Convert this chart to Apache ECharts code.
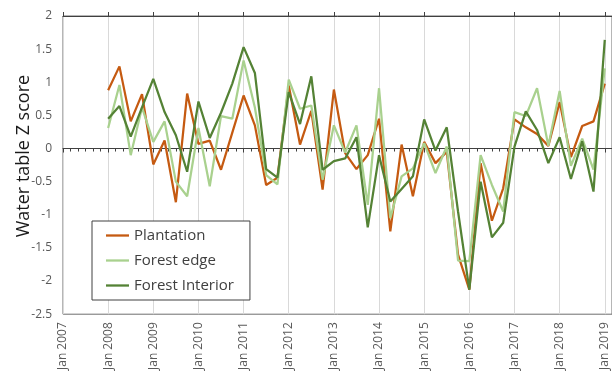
<!DOCTYPE html>
<html>
<head>
<meta charset="utf-8">
<script src="https://cdn.jsdelivr.net/npm/echarts@6/dist/echarts.min.js"></script>
<style>
  html, body { margin: 0; padding: 0; background: #ffffff; }
  #chart { width: 612px; height: 373px; }
</style>
</head>
<body>
<div id="chart"></div>
<script>
// Quarterly sampling dates (year-month)
const quarters = [
  '2008-01','2008-04','2008-07','2008-10',
  '2009-01','2009-04','2009-07','2009-10',
  '2010-01','2010-04','2010-07','2010-10',
  '2011-01','2011-04','2011-07','2011-10',
  '2012-01','2012-04','2012-07','2012-10',
  '2013-01','2013-04','2013-07','2013-10',
  '2014-01','2014-04','2014-07','2014-10',
  '2015-01','2015-04','2015-07','2015-10',
  '2016-01','2016-04','2016-07','2016-10',
  '2017-01','2017-04','2017-07','2017-10',
  '2018-01','2018-04','2018-07','2018-10',
  '2019-01'
];

// Water table Z scores per site type
const plantation = [
  0.88, 1.24, 0.41, 0.82,
  -0.24, 0.12, -0.81, 0.83,
  0.07, 0.12, -0.32, 0.24,
  0.80, 0.35, -0.55, -0.44,
  0.95, 0.06, 0.57, -0.62,
  0.89, -0.07, -0.31, -0.10,
  0.45, -1.25, 0.06, -0.72,
  0.10, -0.22, -0.05, -1.60,
  -2.13, -0.22, -1.09, -0.60,
  0.44, 0.32, 0.22, 0.04,
  0.70, -0.13, 0.34, 0.41,
  0.98
];
const forestEdge = [
  0.31, 0.96, -0.10, 0.62,
  0.10, 0.41, -0.50, -0.72,
  0.31, -0.57, 0.49, 0.45,
  1.33, 0.62, -0.40, -0.54,
  1.04, 0.60, 0.65, -0.47,
  0.35, -0.06, 0.35, -0.85,
  0.91, -1.05, -0.42, -0.30,
  0.08, -0.37, 0.03, -1.69,
  -1.70, -0.10, -0.55, -0.95,
  0.55, 0.49, 0.91, 0.04,
  0.87, -0.26, 0.15, -0.32,
  1.21
];
const forestInterior = [
  0.45, 0.64, 0.18, 0.62,
  1.05, 0.55, 0.20, -0.35,
  0.71, 0.16, 0.54, 0.98,
  1.53, 1.14, -0.31, -0.44,
  0.85, 0.37, 1.09, -0.32,
  -0.19, -0.15, 0.17, -1.19,
  -0.10, -0.80, -0.61, -0.42,
  0.44, -0.03, 0.32, -0.95,
  -2.13, -0.50, -1.34, -1.12,
  0.03, 0.56, 0.28, -0.22,
  0.17, -0.46, 0.11, -0.65,
  1.64
];

const seriesNames = ['Plantation', 'Forest edge', 'Forest Interior'];
const seriesColors = ['#C55A11', '#A9D18E', '#548235'];
const yTitle = 'Water table Z score';

const xMin = 2007, xMax = 2019.16;

// 'YYYY-MM' -> decimal year
function toYear(s) {
  const parts = s.split('-').map(Number);
  return parts[0] + (parts[1] - 1) / 12;
}
function pairs(vals) {
  return quarters.map((q, i) => [toYear(q), vals[i]]);
}

const fontFamily = '"Open Sans", "Liberation Sans", sans-serif';

const chart = echarts.init(document.getElementById('chart'), null, { renderer: 'canvas' });

const baseX = { type: 'value', min: xMin, max: xMax, interval: 1, gridIndex: 0 };

chart.setOption({
  animation: false,
  backgroundColor: '#ffffff',
  grid: {
    left: 63, top: 16, right: -2, bottom: 55,
    show: true, borderColor: '#6d6d6d', borderWidth: 1, backgroundColor: 'transparent'
  },
  xAxis: [
    // date labels and yearly gridlines along the bottom
    Object.assign({}, baseX, {
      position: 'bottom',
      axisLine: { show: false, onZero: false },
      axisTick: { show: false },
      splitLine: { show: true, lineStyle: { color: '#d9d9d9', width: 1 } },
      axisLabel: {
        rotate: 90, margin: 8, fontFamily, fontSize: 12, color: '#595959',
        showMinLabel: true, showMaxLabel: true,
        formatter: v => (Math.abs(v - Math.round(v)) < 1e-6 ? 'Jan ' + Math.round(v) : '')
      }
    }),
    // zero line with yearly ticks downward and bi-monthly minor ticks
    Object.assign({}, baseX, {
      position: 'bottom',
      axisLine: { show: true, onZero: true, lineStyle: { color: '#404040', width: 1 } },
      axisTick: { show: true, length: 4, lineStyle: { color: '#404040', width: 1 } },
      minorTick: { show: true, splitNumber: 6, length: 3, lineStyle: { color: '#404040', width: 1 } },
      axisLabel: { show: false },
      splitLine: { show: false }
    }),
    // yearly ticks upward on the zero line
    Object.assign({}, baseX, {
      position: 'top',
      axisLine: { show: true, onZero: true, lineStyle: { color: '#404040', width: 1 } },
      axisTick: { show: true, length: 4, lineStyle: { color: '#404040', width: 1 } },
      axisLabel: { show: false },
      splitLine: { show: false }
    })
  ],
  yAxis: {
    type: 'value', min: -2.5, max: 2, interval: 0.5,
    axisLine: { show: false },
    axisTick: { show: false },
    splitLine: { show: false },
    axisLabel: { margin: 11, fontFamily, fontSize: 12, color: '#595959' },
    name: yTitle,
    nameLocation: 'middle',
    nameGap: 30,
    nameMoveOverlap: false,
    nameRotate: 90,
    nameTextStyle: { fontFamily, fontSize: 18, color: '#1a1a1a', padding: [0, 0, 0, 18] }
  },
  legend: {
    orient: 'vertical',
    left: 92, top: 221,
    padding: [7, 16, 7, 14],
    itemGap: 10,
    itemWidth: 23,
    itemHeight: 14,
    icon: 'path://M0,6 L23,6 L23,8.3 L0,8.3 Z',
    backgroundColor: '#ffffff',
    borderColor: '#404040',
    borderWidth: 1,
    borderRadius: 0,
    textStyle: { fontFamily, fontSize: 15, color: '#404040' },
    data: seriesNames
  },
  series: [plantation, forestEdge, forestInterior].map((vals, k) => ({
    name: seriesNames[k],
    type: 'line',
    xAxisIndex: 0,
    data: pairs(vals),
    symbol: 'none',
    color: seriesColors[k],
    lineStyle: { color: seriesColors[k], width: 2.25 }
  }))
});
</script>
</body>
</html>
